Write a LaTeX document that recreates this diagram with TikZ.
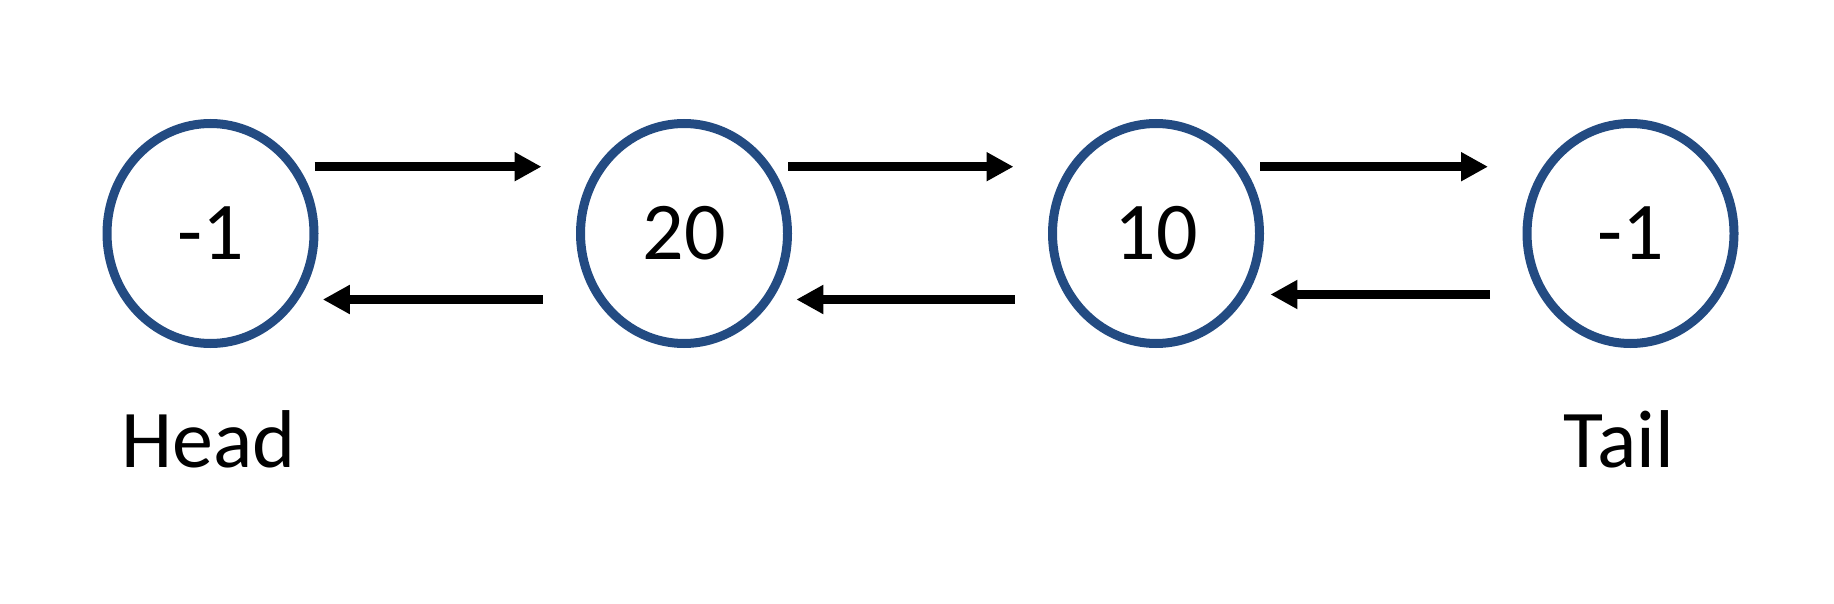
\documentclass[tikz,border=0pt]{standalone}
\usepackage{fontspec}
\setmainfont{Carlito}
\usetikzlibrary{arrows.meta,shapes.geometric,calc}
\definecolor{nodeblue}{RGB}{35,75,130}
\tikzset{
  listnode/.style={draw=nodeblue, line width=4.5pt, ellipse, inner sep=0pt,
    minimum width=103.5pt, minimum height=110pt, font=\fontsize{41}{49}\selectfont},
  arr/.style={line width=4.5pt, -{Triangle[length=13.5pt,width=13.7pt]}},
  lbl/.style={anchor=base, font=\fontsize{41}{49}\selectfont, inner sep=0pt}
}
\begin{document}
\begin{tikzpicture}[x=0.5pt,y=-0.5pt]
\useasboundingbox (0,0) rectangle (1834,604);
\node[listnode] (n1) at (210.5,233.5) {-1};
\node[listnode] (n2) at (684,233.5) {20};
\node[listnode] (n3) at (1156,233.5) {10};
\node[listnode] (n4) at (1630.5,233.5) {-1};
\draw[arr] ($(n1.center)+(104,-66.8)$) -- ($(n2.center)+(-142.5,-66.8)$);
\draw[arr] ($(n2.center)+(104,-66.8)$) -- ($(n3.center)+(-142.5,-66.8)$);
\draw[arr] ($(n3.center)+(104,-66.8)$) -- ($(n4.center)+(-142.5,-66.8)$);
\draw[arr] ($(n2.center)+(-141.5,66)$) -- ($(n1.center)+(112.3,66)$);
\draw[arr] ($(n3.center)+(-141.5,66)$) -- ($(n2.center)+(112.3,66)$);
\draw[arr] ($(n4.center)+(-140.5,61)$) -- ($(n3.center)+(114.4,61)$);
\node[lbl] (head) at (208.5,467.7) {Head};
\node[lbl] (tail) at (1618.8,467.7) {Tail};
\end{tikzpicture}
\end{document}
